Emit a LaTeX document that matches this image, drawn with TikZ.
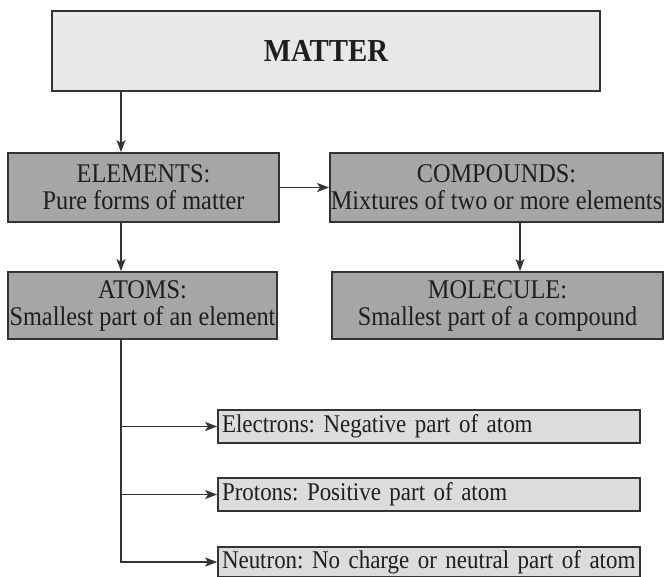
\documentclass[tikz,border=0pt]{standalone}
\usepackage{fontspec}
\setmainfont[FakeStretch=0.9]{Liberation Serif}
\usetikzlibrary{arrows.meta}
\definecolor{boxline}{HTML}{333333}
\definecolor{darkfill}{HTML}{A6A6A6}
\definecolor{lightfill}{HTML}{E8E8E8}
\definecolor{smallfill}{HTML}{DCDCDC}
\definecolor{inkc}{HTML}{1E1E1E}
\tikzset{
  basebox/.style={draw=boxline, line width=1.8pt, inner sep=0pt, text=inkc,
    font=\fontsize{27}{27}\selectfont\frenchspacing, align=center},
  topbox/.style={basebox, fill=lightfill, font=\fontsize{32}{34}\selectfont\bfseries},
  mainbox/.style={basebox, fill=darkfill},
  partbox/.style={basebox, fill=smallfill, minimum width=422pt, minimum height=33pt,
    text width=414pt, align=left, font=\fontsize{25.5}{26}\selectfont\frenchspacing},
  conn/.style={draw=boxline, line width=1.3pt},
  arr/.style={conn, -{Stealth[length=12pt,width=9pt,inset=3pt]}}
}
\begin{document}
\begin{tikzpicture}[x=1pt,y=-1pt]
\useasboundingbox[fill=white] (0,0) rectangle (664,577);
\node[topbox, minimum width=548pt, minimum height=80pt] (matter) at (326,51) {MATTER};
\node[mainbox, minimum width=271pt, minimum height=69pt] (elements) at (143.5,187.5) {ELEMENTS:\\Pure forms of matter};
\node[mainbox, minimum width=333pt, minimum height=69pt] (compounds) at (496.5,187.5) {COMPOUNDS:\\Mixtures of two or more elements};
\node[mainbox, minimum width=269pt, minimum height=67pt] (atoms) at (142.5,305.5) {ATOMS:\\Smallest part of an element};
\node[mainbox, minimum width=331pt, minimum height=67pt] (molecule) at (497.5,305.5) {MOLECULE:\\Smallest part of a compound};
\node[partbox] (electrons) at (429,426.5) {Electrons: Negative part of atom};
\node[partbox] (protons) at (429,494.5) {Protons: Positive part of atom};
\node[partbox, minimum height=30pt] (neutron) at (429,562) {Neutron: No charge or neutral part of atom};
\coordinate (lx) at (121,0);
\coordinate (rx) at (520,0);
\draw[arr] (matter.south -| lx) -- (elements.north -| lx);
\draw[arr] (elements) -- (compounds);
\draw[arr] (elements.south -| lx) -- (atoms.north -| lx);
\draw[arr] (compounds.south -| rx) -- (molecule.north -| rx);
\draw[arr] (atoms.south -| lx) |- (neutron.west);
\draw[arr] (lx |- electrons.west) -- (electrons.west);
\draw[arr] (lx |- protons.west) -- (protons.west);
\end{tikzpicture}
\end{document}
